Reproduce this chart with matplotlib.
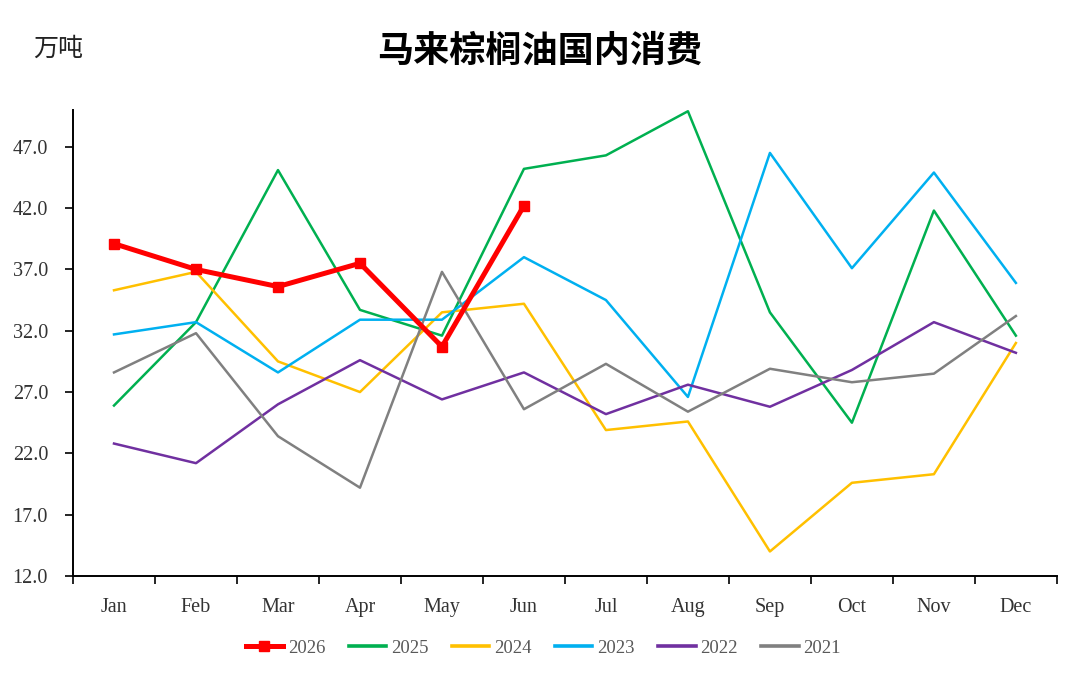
import numpy as np
import matplotlib.pyplot as plt

# Data (万吨)
months = ["Jan", "Feb", "Mar", "Apr", "May", "Jun", "Jul", "Aug", "Sep", "Oct", "Nov", "Dec"]
y2026 = [39.1, 37.0, 35.6, 37.5, 30.7, 42.2]
y2025 = [25.9, 32.7, 45.1, 33.7, 31.6, 45.2, 46.3, 49.9, 33.5, 24.5, 41.8, 31.6]
y2024 = [35.3, 36.8, 29.5, 27.0, 33.5, 34.2, 23.9, 24.6, 14.0, 19.6, 20.3, 31.0]
y2023 = [31.7, 32.7, 28.6, 32.9, 32.9, 38.0, 34.5, 26.6, 46.5, 37.1, 44.9, 35.9]
y2022 = [22.8, 21.2, 26.0, 29.6, 26.4, 28.6, 25.2, 27.6, 25.8, 28.8, 32.7, 30.2]
y2021 = [28.6, 31.8, 23.4, 19.2, 36.8, 25.6, 29.3, 25.4, 28.9, 27.8, 28.5, 33.2]

serif = "Liberation Serif"
cjk = ["Noto Sans CJK SC", "DejaVu Sans"]

fig = plt.figure(figsize=(10.8, 6.79), dpi=100)
ax = fig.add_axes([0.0676, 0.1517, 0.911, 0.6863])

x = np.arange(len(months))
ax.plot(x, y2025, color="#00B050", lw=1.8, label="2025", zorder=3)
ax.plot(x, y2024, color="#FFC000", lw=1.8, label="2024", zorder=3)
ax.plot(x, y2023, color="#00B0F0", lw=1.8, label="2023", zorder=3)
ax.plot(x, y2022, color="#7030A0", lw=1.8, label="2022", zorder=3)
ax.plot(x, y2021, color="#808080", lw=1.8, label="2021", zorder=3)
ax.plot(x[:len(y2026)], y2026, color="#FF0000", lw=3.6, marker="s", ms=7,
        label="2026", zorder=4)

ax.set_xlim(-0.5, 11.5)
ax.set_ylim(12, 50)
ax.set_yticks(np.arange(12, 48, 5))
ax.set_yticklabels([f"{v:.1f}" for v in np.arange(12, 48, 5)])

# ticks between categories, labels at centres
ax.set_xticks(np.arange(-0.5, 12, 1))
ax.set_xticklabels([])
ax.set_xticks(x, minor=True)
ax.set_xticklabels(months, minor=True)
ax.tick_params(axis="x", which="major", direction="out", length=6, width=1.2, color="black")
ax.tick_params(axis="x", which="minor", length=0, pad=16)
ax.tick_params(axis="y", direction="out", length=6, width=1.2, pad=12)

for lab in ax.get_xticklabels(minor=True) + ax.get_yticklabels():
    lab.set_fontfamily(serif)
    lab.set_fontsize(14.5)
    lab.set_color("#333333")

for s in ["top", "right"]:
    ax.spines[s].set_visible(False)
for s in ["left", "bottom"]:
    ax.spines[s].set_linewidth(1.4)
    ax.spines[s].set_color("black")

fig.text(0.5, 0.925, "马来棕榈油国内消费", ha="center", va="center",
         fontsize=26, fontweight="bold", family=cjk)
fig.text(0.031, 0.928, "万吨", ha="left", va="center", fontsize=18, family=cjk, color="#222222")

handles, labels = ax.get_legend_handles_labels()
order = [5, 0, 1, 2, 3, 4]
leg = fig.legend([handles[i] for i in order], [labels[i] for i in order],
                 loc="center", bbox_to_anchor=(0.503, 0.045), ncol=6, frameon=False,
                 prop={"family": serif, "size": 13.5}, handlelength=2.0,
                 handletextpad=0.25, columnspacing=1.25)
for t in leg.get_texts():
    t.set_color("#595959")
for h in leg.legend_handles[1:]:
    h.set_linewidth(2.6)

fig.savefig("out.png", dpi=100)
